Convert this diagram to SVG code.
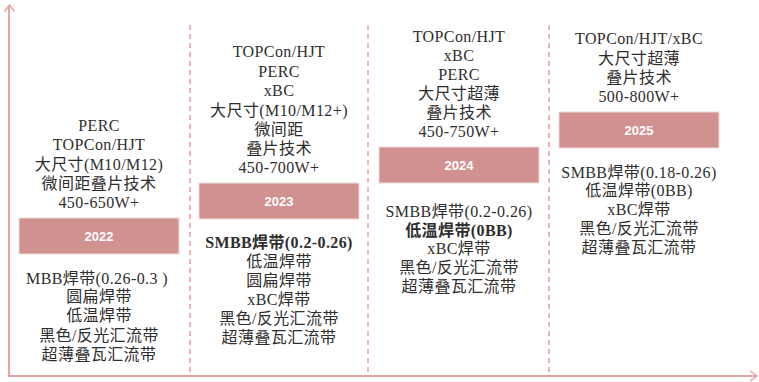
<svg xmlns="http://www.w3.org/2000/svg" width="759" height="382" viewBox="0 0 759 382">
<defs>
<style>
.ax{stroke:#e8a4a4;stroke-width:2;fill:none}
.ah{stroke:#e8a4a4;stroke-width:1.5;fill:none}
.dash{stroke:#e58e8e;stroke-width:1.3;stroke-dasharray:5 4;fill:none}
.box{fill:#d19191;stroke:#f0dada;stroke-width:1}
.yr{font-family:"Liberation Sans",Arial,sans-serif;font-size:13px;font-weight:bold;fill:#ffffff;text-anchor:middle}
.t{font-family:"Liberation Serif","Noto Sans CJK SC",serif;font-size:16px;letter-spacing:0.4px;fill:#2e2e2e;text-anchor:middle}
.b{font-weight:bold}
</style>
</defs>
<rect width="759" height="382" fill="#ffffff"/>
<g id="connectors">
<path class="ax" d="M9,6 V376 H756"/>
<path class="ah" d="M4.5,11.5 L9.5,5 L14.5,11.5"/>
<path class="ah" d="M750,371 L757,376 L750,381"/>
<path class="dash" d="M190,25 V375"/>
<path class="dash" d="M368,25 V375"/>
<path class="dash" d="M549,25 V375"/>
</g>
<g id="y2022">
<text class="t" x="99" y="131">PERC</text>
<text class="t" x="99" y="150">TOPCon/HJT</text>
<text class="t" x="99" y="170">大尺寸(M10/M12)</text>
<text class="t" x="99" y="189">微间距叠片技术</text>
<text class="t" x="99" y="208">450-650W+</text>
<rect class="box" x="19" y="218" width="160" height="36"/>
<text class="yr" x="99" y="241">2022</text>
<text class="t" x="97" y="284">MBB焊带(0.26-0.3 )</text>
<text class="t" x="99" y="302">圆扁焊带</text>
<text class="t" x="99" y="321">低温焊带</text>
<text class="t" x="99" y="341">黑色/反光汇流带</text>
<text class="t" x="99" y="360">超薄叠瓦汇流带</text>
</g>
<g id="y2023">
<text class="t" x="279" y="57">TOPCon/HJT</text>
<text class="t" x="279" y="77">PERC</text>
<text class="t" x="279" y="96">xBC</text>
<text class="t" x="279" y="116">大尺寸(M10/M12+)</text>
<text class="t" x="279" y="135">微间距</text>
<text class="t" x="279" y="154">叠片技术</text>
<text class="t" x="279" y="173">450-700W+</text>
<rect class="box" x="199" y="183" width="160" height="36"/>
<text class="yr" x="279" y="206">2023</text>
<text class="t b" x="279" y="248">SMBB焊带(0.2-0.26)</text>
<text class="t" x="279" y="267">低温焊带</text>
<text class="t" x="279" y="286">圆扁焊带</text>
<text class="t" x="279" y="305">xBC焊带</text>
<text class="t" x="279" y="324">黑色/反光汇流带</text>
<text class="t" x="279" y="343">超薄叠瓦汇流带</text>
</g>
<g id="y2024">
<text class="t" x="459" y="42">TOPCon/HJT</text>
<text class="t" x="459" y="61">xBC</text>
<text class="t" x="459" y="80">PERC</text>
<text class="t" x="459" y="99">大尺寸超薄</text>
<text class="t" x="459" y="118">叠片技术</text>
<text class="t" x="459" y="137">450-750W+</text>
<rect class="box" x="379" y="147" width="160" height="36"/>
<text class="yr" x="459" y="170">2024</text>
<text class="t" x="459" y="217">SMBB焊带(0.2-0.26)</text>
<text class="t b" x="459" y="236">低温焊带(0BB)</text>
<text class="t" x="459" y="254">xBC焊带</text>
<text class="t" x="459" y="273">黑色/反光汇流带</text>
<text class="t" x="459" y="292">超薄叠瓦汇流带</text>
</g>
<g id="y2025">
<text class="t" x="639" y="44">TOPCon/HJT/xBC</text>
<text class="t" x="639" y="64">大尺寸超薄</text>
<text class="t" x="639" y="83">叠片技术</text>
<text class="t" x="639" y="102">500-800W+</text>
<rect class="box" x="559" y="112" width="160" height="36"/>
<text class="yr" x="639" y="135">2025</text>
<text class="t" x="639" y="178">SMBB焊带(0.18-0.26)</text>
<text class="t" x="639" y="196">低温焊带(0BB)</text>
<text class="t" x="639" y="215">xBC焊带</text>
<text class="t" x="639" y="234">黑色/反光汇流带</text>
<text class="t" x="639" y="253">超薄叠瓦汇流带</text>
</g>
</svg>
